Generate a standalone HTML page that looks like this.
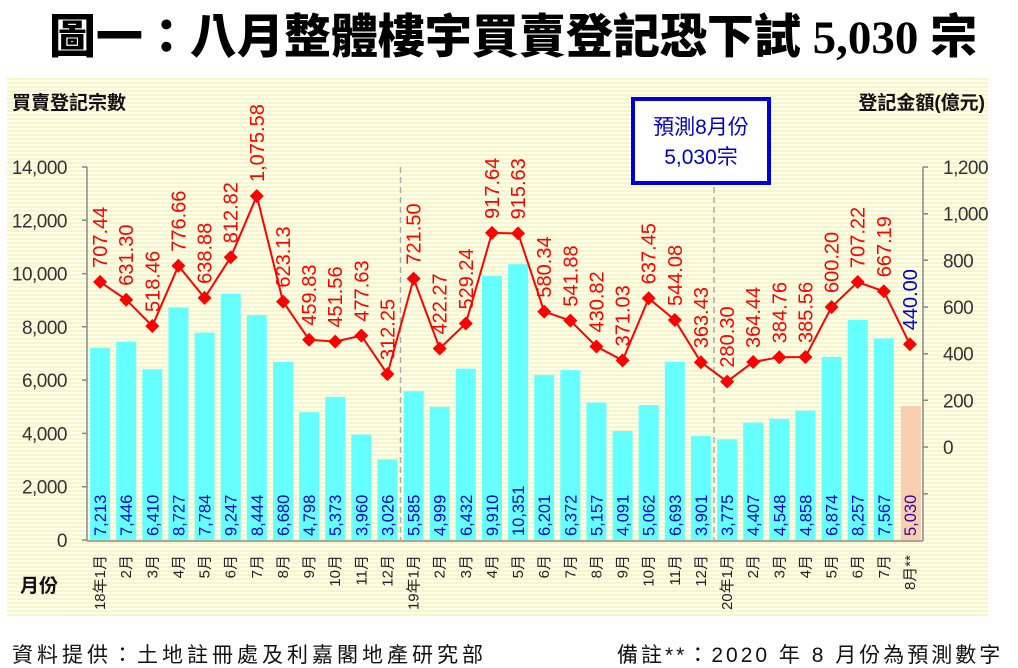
<!DOCTYPE html>
<html><head><meta charset="utf-8"><style>
body{margin:0;background:#fff;}
svg{display:block;}
text{font-family:"Liberation Sans","Noto Sans CJK TC",sans-serif;}
</style></head><body>
<svg width="1018" height="668" viewBox="0 0 1018 668" xmlns="http://www.w3.org/2000/svg">
<defs>
<pattern id="st" width="4" height="4" patternUnits="userSpaceOnUse">
<rect width="4" height="4" fill="#fffff0"/><rect y="2" width="4" height="2" fill="#f6f6c8"/>
</pattern>
</defs>
<text x="513" y="53" text-anchor="middle" font-size="47" font-weight="900" fill="#000" style="font-family:'Liberation Serif','Noto Sans CJK TC',serif">圖一：八月整體樓宇買賣登記恐下試 5,030 宗</text>
<rect x="7" y="78" width="981" height="538" fill="url(#st)"/>
<text x="12" y="109" font-size="19" font-weight="bold" fill="#111">買賣登記宗數</text>
<text x="985" y="109" text-anchor="end" font-size="19" font-weight="bold" fill="#111">登記金額(億元)</text>
<g fill="#66ffff">
<rect x="90.1" y="347.8" width="20" height="192.2"/>
<rect x="116.2" y="341.6" width="20" height="198.4"/>
<rect x="142.3" y="369.2" width="20" height="170.8"/>
<rect x="168.4" y="307.5" width="20" height="232.5"/>
<rect x="194.6" y="332.6" width="20" height="207.4"/>
<rect x="220.7" y="293.6" width="20" height="246.4"/>
<rect x="246.8" y="315.0" width="20" height="225.0"/>
<rect x="273.0" y="362.0" width="20" height="178.0"/>
<rect x="299.1" y="412.2" width="20" height="127.8"/>
<rect x="325.2" y="396.8" width="20" height="143.2"/>
<rect x="351.3" y="434.5" width="20" height="105.5"/>
<rect x="377.4" y="459.4" width="20" height="80.6"/>
<rect x="403.6" y="391.2" width="20" height="148.8"/>
<rect x="429.7" y="406.8" width="20" height="133.2"/>
<rect x="455.8" y="368.6" width="20" height="171.4"/>
<rect x="482.0" y="276.0" width="20" height="264.0"/>
<rect x="508.1" y="264.2" width="20" height="275.8"/>
<rect x="534.2" y="374.8" width="20" height="165.2"/>
<rect x="560.3" y="370.2" width="20" height="169.8"/>
<rect x="586.4" y="402.6" width="20" height="137.4"/>
<rect x="612.6" y="431.0" width="20" height="109.0"/>
<rect x="638.7" y="405.1" width="20" height="134.9"/>
<rect x="664.8" y="361.7" width="20" height="178.3"/>
<rect x="690.9" y="436.1" width="20" height="103.9"/>
<rect x="717.1" y="439.4" width="20" height="100.6"/>
<rect x="743.2" y="422.6" width="20" height="117.4"/>
<rect x="769.3" y="418.8" width="20" height="121.2"/>
<rect x="795.4" y="410.6" width="20" height="129.4"/>
<rect x="821.6" y="356.9" width="20" height="183.1"/>
<rect x="847.7" y="320.0" width="20" height="220.0"/>
<rect x="873.8" y="338.4" width="20" height="201.6"/>
</g>
<rect x="900.9" y="406.0" width="20" height="134.0" fill="#f8cfae"/>
<line x1="400.5" y1="167" x2="400.5" y2="540" stroke="#aaa" stroke-width="1.5" stroke-dasharray="6,4"/>
<line x1="714" y1="167" x2="714" y2="540" stroke="#aaa" stroke-width="1.5" stroke-dasharray="6,4"/>
<g stroke="#888" stroke-width="1.5" fill="none">
<line x1="87" y1="167" x2="87" y2="541"/>
<line x1="87" y1="541" x2="923" y2="541"/>
<line x1="923" y1="167" x2="923" y2="541"/>
<path d="M82 540H87M82 486.7H87M82 433.4H87M82 380.1H87M82 326.8H87M82 273.6H87M82 220.3H87M82 167H87"/>
<path d="M923 447H928M923 400.3H928M923 353.7H928M923 307H928M923 260.3H928M923 213.7H928M923 167H928M923 493.7H928"/>
</g>
<g font-size="19" fill="#333" text-anchor="end" letter-spacing="-0.5">
<text x="67" y="547">0</text><text x="67" y="493.7">2,000</text><text x="67" y="440.4">4,000</text><text x="67" y="387.1">6,000</text><text x="67" y="333.8">8,000</text><text x="67" y="280.6">10,000</text><text x="67" y="227.3">12,000</text><text x="67" y="174">14,000</text>
</g>
<g font-size="19" fill="#333" letter-spacing="-0.5">
<text x="943" y="454">0</text><text x="943" y="407.3">200</text><text x="943" y="360.7">400</text><text x="943" y="314">600</text><text x="943" y="267.3">800</text><text x="943" y="220.7">1,000</text><text x="943" y="174">1,200</text>
</g>
<polyline fill="none" stroke="#ff0000" stroke-width="2" points="100.1,281.9 126.2,299.7 152.3,326.0 178.4,265.8 204.6,297.9 230.7,257.3 256.8,196.0 283.0,301.6 309.1,339.7 335.2,341.6 361.3,335.6 387.4,374.1 413.6,278.6 439.7,348.5 465.8,323.5 492.0,232.9 518.1,233.4 544.2,311.6 570.3,320.6 596.4,346.5 622.6,360.4 648.7,298.3 674.8,320.0 700.9,362.2 727.1,381.6 753.2,362.0 779.3,357.2 805.4,357.0 831.6,307.0 857.7,282.0 883.8,291.3 909.9,344.3"/>
<g fill="#ff0000">
<path d="M100.1 274.9l7 7-7 7-7-7z"/><path d="M126.2 292.7l7 7-7 7-7-7z"/><path d="M152.3 319l7 7-7 7-7-7z"/><path d="M178.4 258.8l7 7-7 7-7-7z"/><path d="M204.6 290.9l7 7-7 7-7-7z"/><path d="M230.7 250.3l7 7-7 7-7-7z"/><path d="M256.8 189l7 7-7 7-7-7z"/><path d="M283 294.6l7 7-7 7-7-7z"/><path d="M309.1 332.7l7 7-7 7-7-7z"/><path d="M335.2 334.6l7 7-7 7-7-7z"/><path d="M361.3 328.6l7 7-7 7-7-7z"/><path d="M387.4 367.1l7 7-7 7-7-7z"/><path d="M413.6 271.6l7 7-7 7-7-7z"/><path d="M439.7 341.5l7 7-7 7-7-7z"/><path d="M465.8 316.5l7 7-7 7-7-7z"/><path d="M492 225.9l7 7-7 7-7-7z"/><path d="M518.1 226.4l7 7-7 7-7-7z"/><path d="M544.2 304.6l7 7-7 7-7-7z"/><path d="M570.3 313.6l7 7-7 7-7-7z"/><path d="M596.4 339.5l7 7-7 7-7-7z"/><path d="M622.6 353.4l7 7-7 7-7-7z"/><path d="M648.7 291.3l7 7-7 7-7-7z"/><path d="M674.8 313l7 7-7 7-7-7z"/><path d="M700.9 355.2l7 7-7 7-7-7z"/><path d="M727.1 374.6l7 7-7 7-7-7z"/><path d="M753.2 355l7 7-7 7-7-7z"/><path d="M779.3 350.2l7 7-7 7-7-7z"/><path d="M805.4 350l7 7-7 7-7-7z"/><path d="M831.6 300l7 7-7 7-7-7z"/><path d="M857.7 275l7 7-7 7-7-7z"/><path d="M883.8 284.3l7 7-7 7-7-7z"/><path d="M909.9 337.3l7 7-7 7-7-7z"/>
</g>
<g font-size="20" fill="#ff0000">
<text transform="translate(107.1,267.9) rotate(-90)">707.44</text>
<text transform="translate(133.2,285.7) rotate(-90)">631.30</text>
<text transform="translate(159.3,312) rotate(-90)">518.46</text>
<text transform="translate(185.4,251.8) rotate(-90)">776.66</text>
<text transform="translate(211.6,283.9) rotate(-90)">638.88</text>
<text transform="translate(237.7,243.3) rotate(-90)">812.82</text>
<text transform="translate(263.8,182) rotate(-90)">1,075.58</text>
<text transform="translate(290,287.6) rotate(-90)">623.13</text>
<text transform="translate(316.1,325.7) rotate(-90)">459.83</text>
<text transform="translate(342.2,327.6) rotate(-90)">451.56</text>
<text transform="translate(368.3,321.6) rotate(-90)">477.63</text>
<text transform="translate(394.4,360.1) rotate(-90)">312.25</text>
<text transform="translate(420.6,264.6) rotate(-90)">721.50</text>
<text transform="translate(446.7,334.5) rotate(-90)">422.27</text>
<text transform="translate(472.8,309.5) rotate(-90)">529.24</text>
<text transform="translate(499,218.9) rotate(-90)">917.64</text>
<text transform="translate(525.1,219.4) rotate(-90)">915.63</text>
<text transform="translate(551.2,297.6) rotate(-90)">580.34</text>
<text transform="translate(577.3,306.6) rotate(-90)">541.88</text>
<text transform="translate(603.4,332.5) rotate(-90)">430.82</text>
<text transform="translate(629.6,346.4) rotate(-90)">371.03</text>
<text transform="translate(655.7,284.3) rotate(-90)">637.45</text>
<text transform="translate(681.8,306) rotate(-90)">544.08</text>
<text transform="translate(707.9,348.2) rotate(-90)">363.43</text>
<text transform="translate(734.1,367.6) rotate(-90)">280.30</text>
<text transform="translate(760.2,348) rotate(-90)">364.44</text>
<text transform="translate(786.3,343.2) rotate(-90)">384.76</text>
<text transform="translate(812.4,343) rotate(-90)">385.56</text>
<text transform="translate(838.6,293) rotate(-90)">600.20</text>
<text transform="translate(864.7,268) rotate(-90)">707.22</text>
<text transform="translate(890.8,277.3) rotate(-90)">667.19</text>
<text transform="translate(916.9,330.3) rotate(-90)" fill="#0000cc">440.00</text>
</g>
<g font-size="16.5" fill="#0000cc">
<text transform="translate(106.1,536) rotate(-90)">7,213</text>
<text transform="translate(132.2,536) rotate(-90)">7,446</text>
<text transform="translate(158.3,536) rotate(-90)">6,410</text>
<text transform="translate(184.4,536) rotate(-90)">8,727</text>
<text transform="translate(210.6,536) rotate(-90)">7,784</text>
<text transform="translate(236.7,536) rotate(-90)">9,247</text>
<text transform="translate(262.8,536) rotate(-90)">8,444</text>
<text transform="translate(289,536) rotate(-90)">6,680</text>
<text transform="translate(315.1,536) rotate(-90)">4,798</text>
<text transform="translate(341.2,536) rotate(-90)">5,373</text>
<text transform="translate(367.3,536) rotate(-90)">3,960</text>
<text transform="translate(393.4,536) rotate(-90)">3,026</text>
<text transform="translate(419.6,536) rotate(-90)">5,585</text>
<text transform="translate(445.7,536) rotate(-90)">4,999</text>
<text transform="translate(471.8,536) rotate(-90)">6,432</text>
<text transform="translate(498,536) rotate(-90)">9,910</text>
<text transform="translate(524.1,536) rotate(-90)">10,351</text>
<text transform="translate(550.2,536) rotate(-90)">6,201</text>
<text transform="translate(576.3,536) rotate(-90)">6,372</text>
<text transform="translate(602.4,536) rotate(-90)">5,157</text>
<text transform="translate(628.6,536) rotate(-90)">4,091</text>
<text transform="translate(654.7,536) rotate(-90)">5,062</text>
<text transform="translate(680.8,536) rotate(-90)">6,693</text>
<text transform="translate(706.9,536) rotate(-90)">3,901</text>
<text transform="translate(733.1,536) rotate(-90)">3,775</text>
<text transform="translate(759.2,536) rotate(-90)">4,407</text>
<text transform="translate(785.3,536) rotate(-90)">4,548</text>
<text transform="translate(811.4,536) rotate(-90)">4,858</text>
<text transform="translate(837.6,536) rotate(-90)">6,874</text>
<text transform="translate(863.7,536) rotate(-90)">8,257</text>
<text transform="translate(889.8,536) rotate(-90)">7,567</text>
<text transform="translate(915.9,536) rotate(-90)" fill="#3300aa">5,030</text>
</g>
<g font-size="15" fill="#222" text-anchor="end">
<text transform="translate(105.1,555) rotate(-90)">18年1月</text>
<text transform="translate(131.2,555) rotate(-90)">2月</text>
<text transform="translate(157.3,555) rotate(-90)">3月</text>
<text transform="translate(183.4,555) rotate(-90)">4月</text>
<text transform="translate(209.6,555) rotate(-90)">5月</text>
<text transform="translate(235.7,555) rotate(-90)">6月</text>
<text transform="translate(261.8,555) rotate(-90)">7月</text>
<text transform="translate(288,555) rotate(-90)">8月</text>
<text transform="translate(314.1,555) rotate(-90)">9月</text>
<text transform="translate(340.2,555) rotate(-90)">10月</text>
<text transform="translate(366.3,555) rotate(-90)">11月</text>
<text transform="translate(392.4,555) rotate(-90)">12月</text>
<text transform="translate(418.6,555) rotate(-90)">19年1月</text>
<text transform="translate(444.7,555) rotate(-90)">2月</text>
<text transform="translate(470.8,555) rotate(-90)">3月</text>
<text transform="translate(497,555) rotate(-90)">4月</text>
<text transform="translate(523.1,555) rotate(-90)">5月</text>
<text transform="translate(549.2,555) rotate(-90)">6月</text>
<text transform="translate(575.3,555) rotate(-90)">7月</text>
<text transform="translate(601.4,555) rotate(-90)">8月</text>
<text transform="translate(627.6,555) rotate(-90)">9月</text>
<text transform="translate(653.7,555) rotate(-90)">10月</text>
<text transform="translate(679.8,555) rotate(-90)">11月</text>
<text transform="translate(705.9,555) rotate(-90)">12月</text>
<text transform="translate(732.1,555) rotate(-90)">20年1月</text>
<text transform="translate(758.2,555) rotate(-90)">2月</text>
<text transform="translate(784.3,555) rotate(-90)">3月</text>
<text transform="translate(810.4,555) rotate(-90)">4月</text>
<text transform="translate(836.6,555) rotate(-90)">5月</text>
<text transform="translate(862.7,555) rotate(-90)">6月</text>
<text transform="translate(888.8,555) rotate(-90)">7月</text>
<text transform="translate(914.9,555) rotate(-90)">8月**</text>
</g>
<text x="20" y="592" font-size="19" font-weight="bold" fill="#111">月份</text>
<rect x="633" y="99" width="136" height="84" fill="#fff" stroke="#0000dd" stroke-width="4"/>
<text x="701" y="134" text-anchor="middle" font-size="21" fill="#0000cc">預測8月份</text>
<text x="701" y="164" text-anchor="middle" font-size="21" fill="#0000cc">5,030宗</text>
<text x="12" y="662" font-size="21" fill="#111" letter-spacing="4">資料提供：土地註冊處及利嘉閣地產研究部</text>
<text x="617" y="662" font-size="21" fill="#111" letter-spacing="3">備註**：2020 年 8 月份為預測數字</text>
</svg>
</body></html>
